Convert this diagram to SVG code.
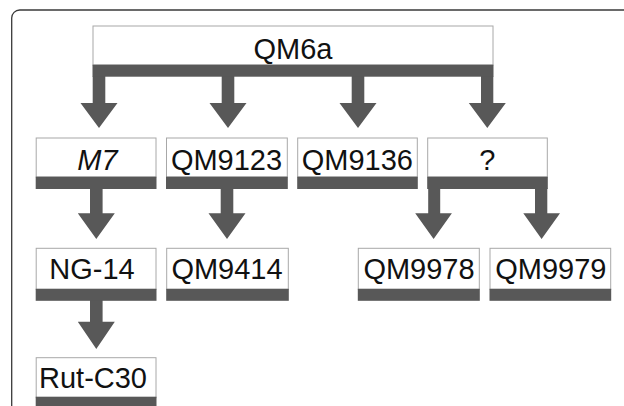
<svg xmlns="http://www.w3.org/2000/svg" width="624" height="406" viewBox="0 0 624 406">
<style>
.box{fill:#ffffff;stroke:#a8a8a8;stroke-width:1}
.bar{fill:#585858}
.arr{fill:#585858}
.t{font-family:"Liberation Sans",Arial,sans-serif;font-size:29px;fill:#111;text-anchor:middle}
.it{font-style:italic}
</style>
<rect width="624" height="406" fill="#ffffff"/>
<path d="M11.7 406 V18 A8 8 0 0 1 19.7 10 H624" fill="none" stroke="#3a3a3a" stroke-width="1.3"/>
<g id="connectors">
<polygon class="arr" points="92.7,76 105.3,76 105.3,103 117.5,103 99,128 80.5,103 92.7,103"/>
<polygon class="arr" points="221.7,76 234.3,76 234.3,103 246.5,103 228,128 209.5,103 221.7,103"/>
<polygon class="arr" points="351.7,76 364.3,76 364.3,103 376.5,103 358,128 339.5,103 351.7,103"/>
<polygon class="arr" points="481,76 493.3,76 493.3,103 505.8,103 487.3,128 468.8,103 481,103"/>
<polygon class="arr" points="90,188 102.6,188 102.6,213.3 114.8,213.3 96.3,239 77.8,213.3 90,213.3"/>
<polygon class="arr" points="220.7,188 233.3,188 233.3,213.3 245.5,213.3 227,239 208.5,213.3 220.7,213.3"/>
<polygon class="arr" points="428.2,188 440.2,188 440.2,213.3 451.9,213.3 433.6,239 415.2,213.3 428.2,213.3"/>
<polygon class="arr" points="535,188 547.3,188 547.3,213.3 560,213.3 541.6,239 523.3,213.3 535,213.3"/>
<polygon class="arr" points="90,300 102.6,300 102.6,321.7 114.8,321.7 96.3,349 77.8,321.7 90,321.7"/>
</g>
<g id="QM6a">
<rect class="box" x="93" y="26" width="400" height="39"/>
<rect class="bar" x="92.5" y="64.7" width="401" height="12"/>
<text class="t" x="293" y="59.3">QM6a</text>
</g>
<g id="M7">
<rect class="box" x="36.2" y="138" width="119.8" height="39"/>
<rect class="bar" x="35.7" y="176.7" width="120.8" height="12.3"/>
<text class="t it" x="97.5" y="169.5">M7</text>
</g>
<g id="QM9123">
<rect class="box" x="166.5" y="138" width="120.8" height="39"/>
<rect class="bar" x="166" y="176.7" width="121.8" height="12.3"/>
<text class="t" x="226.5" y="169.5">QM9123</text>
</g>
<g id="QM9136">
<rect class="box" x="297.7" y="138" width="119.6" height="39"/>
<rect class="bar" x="297.2" y="176.7" width="120.6" height="12.3"/>
<text class="t" x="357.3" y="169.5">QM9136</text>
</g>
<g id="unknown">
<rect class="box" x="427.7" y="138" width="119.6" height="39"/>
<rect class="bar" x="427.2" y="176.7" width="120.6" height="12.3"/>
<text class="t" x="487.3" y="169.5">?</text>
</g>
<g id="NG-14">
<rect class="box" x="36.2" y="248.3" width="119.8" height="41"/>
<rect class="bar" x="35.7" y="288.8" width="120.8" height="12"/>
<text class="t" x="92" y="279.3">NG-14</text>
</g>
<g id="QM9414">
<rect class="box" x="166.7" y="248.3" width="121.6" height="41"/>
<rect class="bar" x="166.2" y="288.8" width="122.6" height="12"/>
<text class="t" x="227" y="279.3">QM9414</text>
</g>
<g id="QM9978">
<rect class="box" x="358.3" y="248.3" width="121" height="41"/>
<rect class="bar" x="357.8" y="288.8" width="122" height="12"/>
<text class="t" x="419" y="278.6">QM9978</text>
</g>
<g id="QM9979">
<rect class="box" x="490" y="248.3" width="120.7" height="41"/>
<rect class="bar" x="489.5" y="288.8" width="121.7" height="12"/>
<text class="t" x="550.8" y="278.6">QM9979</text>
</g>
<g id="Rut-C30">
<rect class="box" x="36.2" y="357.7" width="119.8" height="40"/>
<rect class="bar" x="35.7" y="396.7" width="120.8" height="12"/>
<text class="t" x="93" y="388.3">Rut-C30</text>
</g>
</svg>
